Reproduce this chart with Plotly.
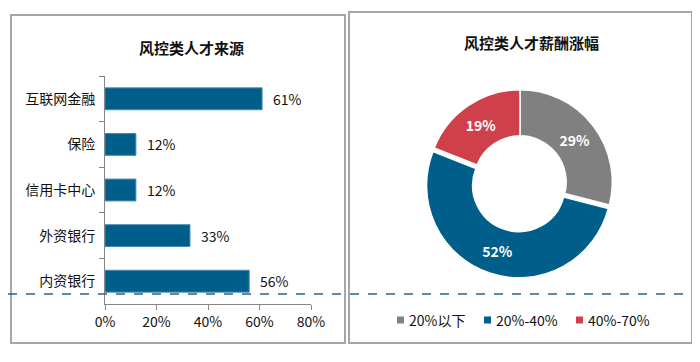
import plotly.graph_objects as go

# page body has an 8px margin, so the figure is drawn 8px in from the window's corner
OFF = 8
W, H = 700 - OFF, 362 - OFF

# ---- data ----
bar_categories = ["互联网金融", "保险", "信用卡中心", "外资银行", "内资银行"]
bar_values = [61, 12, 12, 33, 56]
bar_title = "风控类人才来源"
x_tick_vals = [0, 20, 40, 60, 80]
x_tick_text = ["0%", "20%", "40%", "60%", "80%"]

pie_labels = ["20%以下", "20%-40%", "40%-70%"]
pie_values = [29, 52, 19]
pie_title = "风控类人才薪酬涨幅"

FONT = "Noto Sans CJK SC"
BLUE = "#005E8A"
GRAY = "#808080"
RED = "#D0404A"
pie_colors = [GRAY, BLUE, RED]

def px(x):
    return (x - OFF) / W

def py(y):
    return 1 - (y - OFF) / H

fig = go.Figure()

fig.add_trace(go.Bar(
    x=bar_values, y=bar_categories, orientation="h",
    marker=dict(color=BLUE, line=dict(color="#4A8CB5", width=1)),
    width=0.48, showlegend=False, hoverinfo="skip",
    xaxis="x", yaxis="y",
))

pr = 96
fig.add_trace(go.Pie(
    labels=pie_labels, values=pie_values,
    hole=0.5, sort=False, direction="clockwise", rotation=0,
    marker=dict(colors=pie_colors, line=dict(color="white", width=1.5)),
    pull=[0, 0.04, 0],
    texttemplate="%{value}%", textposition="inside",
    insidetextorientation="horizontal",
    textfont=dict(family=FONT, size=14, color="white", weight="bold"),
    domain=dict(x=[px(520 - pr), px(520 + pr)], y=[py(182 + pr), py(182 - pr)]),
    showlegend=False, hoverinfo="skip",
))

annotations = []
for v, c in zip(bar_values, bar_categories):
    annotations.append(dict(
        x=v, y=c, xref="x", yref="y", text=f"{v}%", showarrow=False,
        xanchor="left", xshift=9, font=dict(family=FONT, size=14, color="#111"),
    ))
annotations.append(dict(x=px(192), y=py(47), xref="paper", yref="paper", text=bar_title,
                        xanchor="center", yanchor="middle",
                        showarrow=False, font=dict(family=FONT, size=15, color="#111", weight="bold")))
annotations.append(dict(x=px(531), y=py(42), xref="paper", yref="paper", text=pie_title,
                        xanchor="center", yanchor="middle",
                        showarrow=False, font=dict(family=FONT, size=15, color="#111", weight="bold")))

shapes = [
    dict(type="rect", xref="paper", yref="paper", x0=px(11), x1=px(345), y0=py(343), y1=py(15),
         line=dict(color="#A6A6A6", width=2)),
    dict(type="rect", xref="paper", yref="paper", x0=px(349), x1=px(692), y0=py(343), y1=py(12),
         line=dict(color="#A6A6A6", width=2)),
    dict(type="line", xref="paper", yref="paper", x0=0, x1=1, y0=py(294), y1=py(294),
         line=dict(color="#2F5D8C", width=1.5, dash="dash")),
]

# custom legend (square marker + label) for the donut
legend_x = [397, 484, 576]
legend_y = 320
for lx, lab, col in zip(legend_x, pie_labels, pie_colors):
    shapes.append(dict(type="rect", xref="paper", yref="paper",
                       x0=px(lx), x1=px(lx + 7), y0=py(legend_y + 3.5), y1=py(legend_y - 3.5),
                       fillcolor=col, line=dict(width=0)))
    annotations.append(dict(x=px(lx + 10), y=py(legend_y), xref="paper", yref="paper", text=lab,
                            showarrow=False, xanchor="left", yanchor="middle",
                            font=dict(family=FONT, size=14, color="#111")))

fig.update_layout(
    width=W, height=H,
    margin=dict(l=0, r=0, t=0, b=0),
    paper_bgcolor="white", plot_bgcolor="white",
    font=dict(family=FONT, size=14, color="#111"),
    showlegend=False,
    xaxis=dict(domain=[px(105), px(311)], range=[0, 80], tickvals=x_tick_vals, ticktext=x_tick_text,
               showgrid=False, zeroline=False, showline=True, linecolor="#868686", linewidth=1,
               ticks="outside", ticklen=5, tickcolor="#868686", fixedrange=True, automargin=False,
               tickfont=dict(family=FONT, size=14, color="#111")),
    yaxis=dict(domain=[py(304), py(76)], categoryorder="array", categoryarray=bar_categories[::-1],
               showgrid=False, zeroline=False, showline=True, linecolor="#868686", linewidth=1,
               ticks="outside", ticklen=5, tickcolor="#868686", tickson="boundaries", fixedrange=True,
               ticklabelstandoff=6, automargin=False,
               tickfont=dict(family=FONT, size=14, color="#111")),
    annotations=annotations,
    shapes=shapes,
)

fig.write_html("out.html")
